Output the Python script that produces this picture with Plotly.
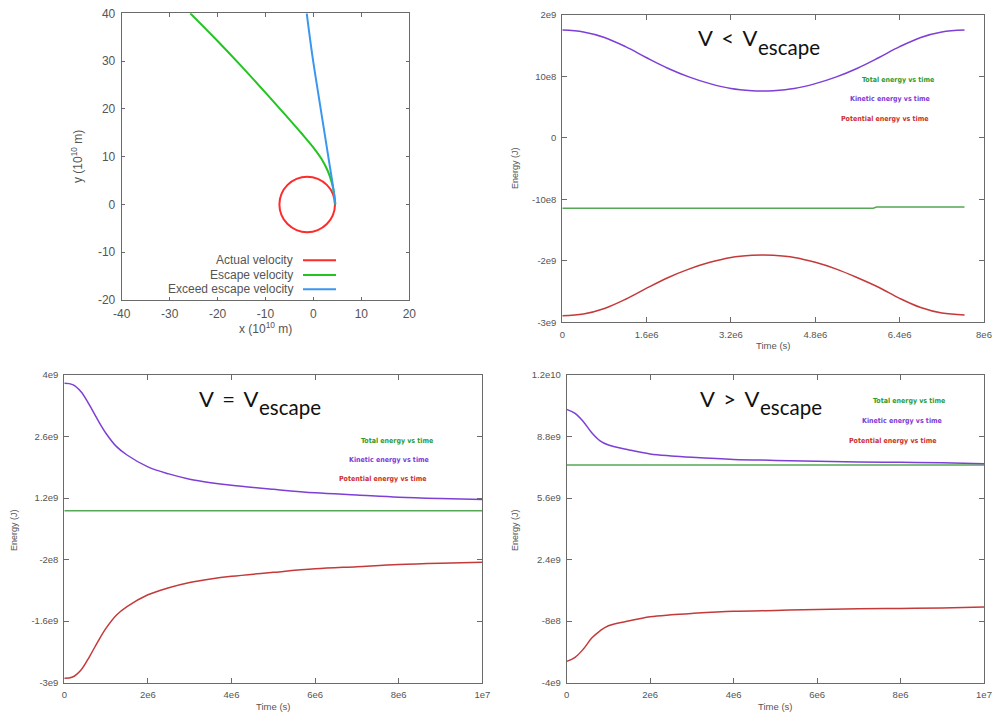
import plotly.graph_objects as go

W, H = 994, 715

# ---------------- data ----------------
# Panel 1: trajectories (units of 1e10 m)
actual_x = [4.5, 4.06, 2.80, 0.92, -1.3, -3.52, -5.40, -6.66, -7.1, -6.66, -5.40, -3.52, -1.3, 0.92, 2.80, 4.06, 4.5]
actual_y = [0, 2.22, 4.10, 5.36, 5.8, 5.36, 4.10, 2.22, 0, -2.22, -4.10, -5.36, -5.8, -5.36, -4.10, -2.22, 0]
escape_x = [4.5, 4.35, 3.85, 3.0, 1.7, 0.0, -2.5, -6.0, -10.0, -15.0, -20.0, -25.7]
escape_y = [0, 2.0, 4.5, 7.0, 9.5, 11.9, 14.9, 18.9, 23.4, 28.9, 34.2, 40.0]
exceed_x = [4.6, 4.2, 3.1, 1.2, -0.2, -1.4]
exceed_y = [0, 3.0, 10.0, 22.0, 31.0, 40.0]
orbit_ticks_x = [-40, -30, -20, -10, 0, 10, 20]
orbit_ticks_y = [-20, -10, 0, 10, 20, 30, 40]

# Panel 2: v < v_escape
t_lt = [0, 0.4e6, 0.8e6, 1.2e6, 1.6e6, 2.0e6, 2.4e6, 2.8e6, 3.2e6, 3.6e6, 3.81e6, 4.0e6,
        4.4e6, 4.8e6, 5.2e6, 5.6e6, 6.0e6, 6.4e6, 6.8e6, 7.2e6, 7.63e6]
ke_lt = [1.75e9, 1.72e9, 1.63e9, 1.48e9, 1.30e9, 1.13e9, 0.99e9, 0.88e9, 0.80e9, 0.765e9, 0.76e9,
         0.765e9, 0.80e9, 0.88e9, 0.99e9, 1.13e9, 1.30e9, 1.48e9, 1.63e9, 1.72e9, 1.75e9]
pe_lt = [-2.895e9, -2.865e9, -2.775e9, -2.625e9, -2.445e9, -2.275e9, -2.135e9, -2.025e9, -1.945e9, -1.91e9,
         -1.905e9, -1.91e9, -1.945e9, -2.025e9, -2.135e9, -2.275e9, -2.43e9, -2.61e9, -2.76e9, -2.85e9, -2.88e9]
t_tot_lt = [0, 5.9e6, 5.96e6, 7.63e6]
te_lt = [-1.145e9, -1.145e9, -1.126e9, -1.126e9]
lt_xticks = [0, 1.6e6, 3.2e6, 4.8e6, 6.4e6, 8e6]
lt_xlabels = ["0", "1.6e6", "3.2e6", "4.8e6", "6.4e6", "8e6"]
lt_yticks = [-3e9, -2e9, -1e9, 0, 1e9, 2e9]
lt_ylabels = ["-3e9", "-2e9", "-10e8", "0", "10e8", "2e9"]

# Panel 3: v = v_escape
t_eq = [0, 0.2e6, 0.4e6, 0.6e6, 0.8e6, 1.0e6, 1.25e6, 1.5e6, 2.0e6, 2.5e6, 3.0e6, 3.5e6,
        4.0e6, 5.0e6, 6.0e6, 7.0e6, 8.0e6, 9.0e6, 10.0e6]
ke_eq = [3.81e9, 3.78e9, 3.62e9, 3.32e9, 2.98e9, 2.67e9, 2.37e9, 2.18e9, 1.91e9, 1.75e9, 1.63e9,
         1.55e9, 1.49e9, 1.40e9, 1.32e9, 1.27e9, 1.22e9, 1.19e9, 1.17e9]
pe_eq = [-2.90e9, -2.87e9, -2.71e9, -2.41e9, -2.07e9, -1.76e9, -1.46e9, -1.27e9, -1.00e9, -0.84e9,
         -0.72e9, -0.64e9, -0.58e9, -0.49e9, -0.41e9, -0.36e9, -0.31e9, -0.28e9, -0.26e9]
t_tot_eq = [0, 10.0e6]
te_eq = [0.91e9, 0.91e9]
eq_yticks = [-3e9, -1.6e9, -0.2e9, 1.2e9, 2.6e9, 4e9]
eq_ylabels = ["-3e9", "-1.6e9", "-2e8", "1.2e9", "2.6e9", "4e9"]

# Panel 4: v > v_escape
t_gt = [0, 0.2e6, 0.4e6, 0.6e6, 0.8e6, 1.0e6, 1.5e6, 2.0e6, 2.5e6, 3.0e6, 4.0e6, 5.0e6,
        6.0e6, 7.0e6, 8.0e6, 9.0e6, 10.0e6]
ke_gt = [10.21e9, 10.0e9, 9.57e9, 9.0e9, 8.58e9, 8.36e9, 8.10e9, 7.89e9, 7.79e9, 7.72e9, 7.61e9,
         7.56e9, 7.51e9, 7.48e9, 7.46e9, 7.44e9, 7.39e9]
pe_gt = [-2.89e9, -2.68e9, -2.25e9, -1.68e9, -1.30e9, -1.04e9, -0.78e9, -0.57e9, -0.47e9, -0.40e9,
         -0.29e9, -0.24e9, -0.19e9, -0.16e9, -0.14e9, -0.12e9, -0.07e9]
t_tot_gt = [0, 10.0e6]
te_gt = [7.32e9, 7.32e9]
gt_yticks = [-4e9, -0.8e9, 2.4e9, 5.6e9, 8.8e9, 12e9]
gt_ylabels = ["-4e9", "-8e8", "2.4e9", "5.6e9", "8.8e9", "1.2e10"]

long_xticks = [0, 2e6, 4e6, 6e6, 8e6, 1e7]
long_xlabels = ["0", "2e6", "4e6", "6e6", "8e6", "1e7"]

energy_names = ["Total energy vs time", "Kinetic energy vs time", "Potential energy vs time"]
orbit_names = ["Actual velocity", "Escape velocity", "Exceed escape velocity"]

# ---------------- style ----------------
C_RED, C_GREEN, C_BLUE = "#ff2a2a", "#22c422", "#3a97f0"
C_KE, C_PE, C_TE = "#7d3fd6", "#c43a3a", "#55a855"
TXT_KE, TXT_PE, TXT_TE = "#7a3ad8", "#cc2e2e", "#2f9a2f"
AX = "#6a6a6a"
TICKC = "#555555"
FONT = "Liberation Sans, Arial, sans-serif"


def px(x):
    return x / W


def py(y):
    return 1 - y / H


fig = go.Figure()

# Panel 1
fig.add_trace(go.Scatter(x=actual_x, y=actual_y, mode="lines", line=dict(color=C_RED, width=2, shape="spline"),
                         xaxis="x", yaxis="y", showlegend=False, name=orbit_names[0]))
fig.add_trace(go.Scatter(x=escape_x, y=escape_y, mode="lines", line=dict(color=C_GREEN, width=2, shape="spline"),
                         xaxis="x", yaxis="y", showlegend=False, name=orbit_names[1]))
fig.add_trace(go.Scatter(x=exceed_x, y=exceed_y, mode="lines", line=dict(color=C_BLUE, width=2, shape="spline"),
                         xaxis="x", yaxis="y", showlegend=False, name=orbit_names[2]))

panels = [
    ("x2", "y2", t_tot_lt, te_lt, t_lt, ke_lt, pe_lt),
    ("x3", "y3", t_tot_eq, te_eq, t_eq, ke_eq, pe_eq),
    ("x4", "y4", t_tot_gt, te_gt, t_gt, ke_gt, pe_gt),
]
for xa, ya, tt, te, t, ke, pe in panels:
    fig.add_trace(go.Scatter(x=tt, y=te, mode="lines", line=dict(color=C_TE, width=1.5),
                             xaxis=xa, yaxis=ya, showlegend=False, name=energy_names[0]))
    fig.add_trace(go.Scatter(x=t, y=ke, mode="lines", line=dict(color=C_KE, width=1.5, shape="spline"),
                             xaxis=xa, yaxis=ya, showlegend=False, name=energy_names[1]))
    fig.add_trace(go.Scatter(x=t, y=pe, mode="lines", line=dict(color=C_PE, width=1.5, shape="spline"),
                             xaxis=xa, yaxis=ya, showlegend=False, name=energy_names[2]))


def axis(domain, rng, tickvals, ticktext, anchor, size, ticklen):
    return dict(domain=domain, range=rng, tickvals=tickvals, ticktext=ticktext, anchor=anchor,
                showline=True, linecolor=AX, linewidth=1, mirror="allticks", ticks="inside",
                ticklen=ticklen, tickcolor=AX, tickwidth=1, showgrid=False, zeroline=False,
                automargin=False, ticklabeloverflow="allow",
                tickfont=dict(family=FONT, size=size, color=TICKC), ticklabelstandoff=3)


# domains in page pixels
P1 = (121.7, 409.3, 13.3, 300.0)
P2 = (562.3, 984.0, 14.7, 322.3)
P3 = (64.3, 482.3, 375.0, 682.7)
P4 = (566.7, 984.0, 375.0, 682.7)


def dom(p):
    return [px(p[0]), px(p[1])], [py(p[3]), py(p[2])]


d1x, d1y = dom(P1)
d2x, d2y = dom(P2)
d3x, d3y = dom(P3)
d4x, d4y = dom(P4)

fig.update_layout(
    template="none",
    width=W, height=H, autosize=False, margin=dict(l=0, r=0, t=0, b=0, pad=0),
    paper_bgcolor="white", plot_bgcolor="white",
    xaxis=axis(d1x, [-40, 20], orbit_ticks_x, [str(v) for v in orbit_ticks_x], "y", 12, 3.5),
    yaxis=axis(d1y, [-20, 40], orbit_ticks_y, [str(v) for v in orbit_ticks_y], "x", 12, 3.5),
    xaxis2=axis(d2x, [0, 8e6], lt_xticks, lt_xlabels, "y2", 9.5, 5),
    yaxis2=axis(d2y, [-3e9, 2e9], lt_yticks, lt_ylabels, "x2", 9.5, 5),
    xaxis3=axis(d3x, [0, 1e7], long_xticks, long_xlabels, "y3", 9.5, 5),
    yaxis3=axis(d3y, [-3e9, 4e9], eq_yticks, eq_ylabels, "x3", 9.5, 5),
    xaxis4=axis(d4x, [0, 1e7], long_xticks, long_xlabels, "y4", 9.5, 5),
    yaxis4=axis(d4y, [-4e9, 12e9], gt_yticks, gt_ylabels, "x4", 9.5, 5),
)

ann = []


def text(x, y, s, size, color, xanchor="center", yanchor="middle", family=FONT, angle=0):
    ann.append(dict(x=px(x), y=py(y), xref="paper", yref="paper", text=s, showarrow=False,
                    xanchor=xanchor, yanchor=yanchor, textangle=angle, borderpad=0,
                    font=dict(family=family, size=size, color=color)))


# Panel 1 axis titles
text(265, 328, "x (10<sup>10</sup> m)", 12, TICKC)
text(77, 157, "y (10<sup>10</sup> m)", 12, TICKC, angle=-90)
# Panel 1 legend (gnuplot style: text then line sample)
leg_rows = [260.3, 275.0, 289.3]
leg_cols = [C_RED, C_GREEN, C_BLUE]
shapes = []
for name, yy, cc in zip(orbit_names, leg_rows, leg_cols):
    text(293.5, yy, name, 12, TICKC, xanchor="right")
    shapes.append(dict(type="line", xref="paper", yref="paper", x0=px(303), x1=px(336),
                       y0=py(yy), y1=py(yy), line=dict(color=cc, width=2)))

# Energy axis titles
text(515, 168, "Energy (J)", 9, TICKC, angle=-90)
text(14, 530, "Energy (J)", 9, TICKC, angle=-90)
text(515, 530, "Energy (J)", 9, TICKC, angle=-90)
text(773, 345, "Time (s)", 9.5, TICKC)
text(273, 706, "Time (s)", 9.5, TICKC)
text(775, 706, "Time (s)", 9.5, TICKC)

# Energy labels
LBL = "Liberation Sans Narrow, DejaVu Sans Condensed, Arial Narrow, sans-serif"
lbl_sets = [
    ((935, 80), (931, 99), (929, 119)),
    ((434, 441), (430, 460), (427, 479)),
    ((946, 401), (943, 421), (937, 441)),
]
for (a, b, c) in lbl_sets:
    text(a[0], a[1], "<b>" + energy_names[0] + "</b>", 7, TXT_TE, xanchor="right", family=LBL)
    text(b[0], b[1], "<b>" + energy_names[1] + "</b>", 7, TXT_KE, xanchor="right", family=LBL)
    text(c[0], c[1], "<b>" + energy_names[2] + "</b>", 7, TXT_PE, xanchor="right", family=LBL)

# Big titles
TF = "Lato, Open Sans, sans-serif"
for (jx, vy, sym) in [(758, 37.5, "V&#8201; &lt; &#8201;V"), (259, 398, "V&#8201; = &#8201;V"),
                      (760, 398, "V&#8201; &gt; &#8201;V")]:
    text(jx, vy, sym, 22, "#111111", xanchor="right", family=TF)
    text(jx - 1, vy + 9, "escape", 20.5, "#111111", xanchor="left", family=TF)

fig.update_layout(annotations=ann, shapes=shapes)
fig.write_html("out.html", config={"displayModeBar": False},
               post_script="document.body.style.margin='0';document.body.style.overflow='hidden';")
